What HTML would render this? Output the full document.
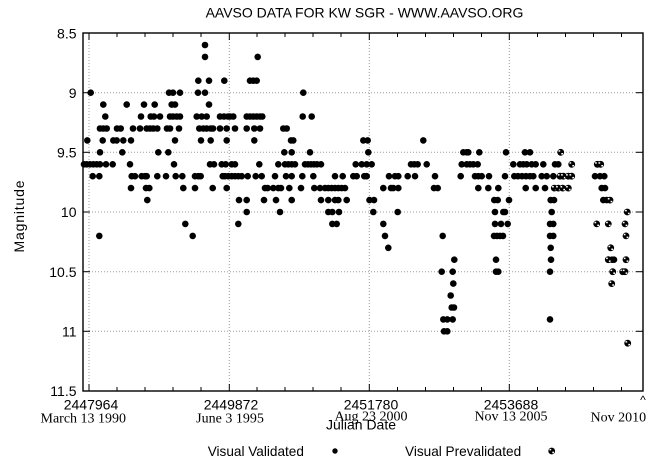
<!DOCTYPE html>
<html><head><meta charset="utf-8"><style>
html,body{margin:0;padding:0;background:#fff;}
svg{display:block;}
text{font-family:"Liberation Sans",Arial,sans-serif;fill:#000;}
.sf{font-family:"Liberation Serif","Times New Roman",serif;}
</style></head><body>
<svg width="659" height="465" viewBox="0 0 659 465" xmlns="http://www.w3.org/2000/svg">
<defs>
<g id="pv"><circle r="3.4" fill="#000"/><rect x="-2.2" y="-2.1" width="1.7" height="1.5" fill="#fff"/><rect x="0.6" y="0.7" width="1.7" height="1.5" fill="#fff"/></g>
</defs>
<rect x="0" y="0" width="659" height="465" fill="#fff"/>
<text x="364.5" y="17.3" font-size="14" text-anchor="middle">AAVSO DATA FOR KW SGR - WWW.AAVSO.ORG</text>

<!-- grid -->
<g stroke="#9a9a9a" stroke-width="1" stroke-dasharray="1,2" fill="none">
<line x1="83" y1="92.7" x2="643" y2="92.7"/>
<line x1="83" y1="152.3" x2="643" y2="152.3"/>
<line x1="83" y1="212" x2="643" y2="212"/>
<line x1="83" y1="271.7" x2="643" y2="271.7"/>
<line x1="83" y1="331.3" x2="643" y2="331.3"/>
<line x1="89" y1="33" x2="89" y2="391"/>
<line x1="229.3" y1="33" x2="229.3" y2="391"/>
<line x1="369.3" y1="33" x2="369.3" y2="391"/>
<line x1="509.3" y1="33" x2="509.3" y2="391"/>
</g>

<!-- ticks -->
<g stroke="#000" stroke-width="1">
<line x1="83" y1="92.7" x2="90" y2="92.7"/><line x1="643" y1="92.7" x2="636" y2="92.7"/>
<line x1="83" y1="152.3" x2="90" y2="152.3"/><line x1="643" y1="152.3" x2="636" y2="152.3"/>
<line x1="83" y1="212" x2="90" y2="212"/><line x1="643" y1="212" x2="636" y2="212"/>
<line x1="83" y1="271.7" x2="90" y2="271.7"/><line x1="643" y1="271.7" x2="636" y2="271.7"/>
<line x1="83" y1="331.3" x2="90" y2="331.3"/><line x1="643" y1="331.3" x2="636" y2="331.3"/>
<!-- major x -->
<line x1="89" y1="391" x2="89" y2="384"/><line x1="89" y1="33" x2="89" y2="40"/>
<line x1="229.3" y1="391" x2="229.3" y2="384"/><line x1="229.3" y1="33" x2="229.3" y2="40"/>
<line x1="369.3" y1="391" x2="369.3" y2="384"/><line x1="369.3" y1="33" x2="369.3" y2="40"/>
<line x1="509.3" y1="391" x2="509.3" y2="384"/><line x1="509.3" y1="33" x2="509.3" y2="40"/>
</g>
<g stroke="#000" stroke-width="1">
<line x1="117" y1="391" x2="117" y2="387"/><line x1="117" y1="33" x2="117" y2="37"/>
<line x1="145" y1="391" x2="145" y2="387"/><line x1="145" y1="33" x2="145" y2="37"/>
<line x1="173" y1="391" x2="173" y2="387"/><line x1="173" y1="33" x2="173" y2="37"/>
<line x1="201" y1="391" x2="201" y2="387"/><line x1="201" y1="33" x2="201" y2="37"/>
<line x1="257" y1="391" x2="257" y2="387"/><line x1="257" y1="33" x2="257" y2="37"/>
<line x1="285" y1="391" x2="285" y2="387"/><line x1="285" y1="33" x2="285" y2="37"/>
<line x1="313" y1="391" x2="313" y2="387"/><line x1="313" y1="33" x2="313" y2="37"/>
<line x1="341" y1="391" x2="341" y2="387"/><line x1="341" y1="33" x2="341" y2="37"/>
<line x1="397.5" y1="391" x2="397.5" y2="387"/><line x1="397.5" y1="33" x2="397.5" y2="37"/>
<line x1="425.5" y1="391" x2="425.5" y2="387"/><line x1="425.5" y1="33" x2="425.5" y2="37"/>
<line x1="453.5" y1="391" x2="453.5" y2="387"/><line x1="453.5" y1="33" x2="453.5" y2="37"/>
<line x1="481.5" y1="391" x2="481.5" y2="387"/><line x1="481.5" y1="33" x2="481.5" y2="37"/>
<line x1="537.5" y1="391" x2="537.5" y2="387"/><line x1="537.5" y1="33" x2="537.5" y2="37"/>
<line x1="565.5" y1="391" x2="565.5" y2="387"/><line x1="565.5" y1="33" x2="565.5" y2="37"/>
<line x1="593.5" y1="391" x2="593.5" y2="387"/><line x1="593.5" y1="33" x2="593.5" y2="37"/>
<line x1="621.5" y1="391" x2="621.5" y2="387"/><line x1="621.5" y1="33" x2="621.5" y2="37"/>
</g>

<!-- frame -->
<rect x="83" y="33" width="560" height="358" fill="none" stroke="#000" stroke-width="1.4"/>

<!-- y labels -->
<g font-size="14" text-anchor="end">
<text x="76.5" y="38.3">8.5</text>
<text x="76.5" y="97.9">9</text>
<text x="76.5" y="157.5">9.5</text>
<text x="76.5" y="217.2">10</text>
<text x="76.5" y="276.9">10.5</text>
<text x="76.5" y="336.5">11</text>
<text x="76.5" y="396.2">11.5</text>
</g>
<text transform="translate(24,216.5) rotate(-90)" font-size="14" text-anchor="middle" textLength="72">Magnitude</text>

<!-- x labels -->
<g font-size="14" text-anchor="middle">
<text x="91" y="409.3">2447964</text>
<text x="231" y="409.3">2449872</text>
<text x="371" y="409.3">2451780</text>
<text x="511" y="409.3">2453688</text>
</g>
<g class="sf" font-size="14" text-anchor="middle">
<text class="sf" x="83.3" y="422.5">March 13 1990</text>
<text class="sf" x="230" y="422.5">June 3 1995</text>
<text class="sf" x="371" y="420.5">Aug 23 2000</text>
<text class="sf" x="511" y="420.5">Nov 13 2005</text>
<text class="sf" x="618.3" y="421.7">Nov 2010</text>
</g>
<text x="643" y="404" font-size="12" text-anchor="middle">^</text>
<text x="361" y="429.5" font-size="14" text-anchor="middle">Julian Date</text>

<!-- legend -->
<text x="207.7" y="456" font-size="13.6">Visual Validated</text>
<circle cx="335" cy="451" r="2.7" fill="#000"/>
<text x="405" y="456" font-size="13.6">Visual Prevalidated</text>
<use href="#pv" x="551.7" y="451"/>

<!-- validated data -->
<g fill="#000">
<g transform="translate(0,45)"><circle cx="205" r="3.3"/></g>
<g transform="translate(0,56.9)"><circle cx="205" r="3.3"/><circle cx="257.7" r="3.3"/></g>
<g transform="translate(0,80.7)"><circle cx="198.3" r="3.3"/><circle cx="209" r="3.3"/><circle cx="224.3" r="3.3"/><circle cx="250" r="3.3"/><circle cx="253.3" r="3.3"/><circle cx="256.7" r="3.3"/></g>
<g transform="translate(0,92.7)"><circle cx="90.7" r="3.3"/><circle cx="169" r="3.3"/><circle cx="173" r="3.3"/><circle cx="180" r="3.3"/><circle cx="198" r="3.3"/><circle cx="205" r="3.3"/><circle cx="303.3" r="3.3"/></g>
<g transform="translate(0,104.6)"><circle cx="103.3" r="3.3"/><circle cx="126.7" r="3.3"/><circle cx="144" r="3.3"/><circle cx="154.7" r="3.3"/><circle cx="171.7" r="3.3"/><circle cx="175" r="3.3"/><circle cx="209" r="3.3"/></g>
<g transform="translate(0,116.5)"><circle cx="105.3" r="3.3"/><circle cx="141" r="3.3"/><circle cx="150.7" r="3.3"/><circle cx="154" r="3.3"/><circle cx="160" r="3.3"/><circle cx="170" r="3.3"/><circle cx="173" r="3.3"/><circle cx="176.7" r="3.3"/><circle cx="180" r="3.3"/><circle cx="196.7" r="3.3"/><circle cx="201.7" r="3.3"/><circle cx="206.7" r="3.3"/><circle cx="220" r="3.3"/><circle cx="224" r="3.3"/><circle cx="228" r="3.3"/><circle cx="230" r="3.3"/><circle cx="233.3" r="3.3"/><circle cx="246.7" r="3.3"/><circle cx="250" r="3.3"/><circle cx="253.3" r="3.3"/><circle cx="256.7" r="3.3"/><circle cx="260" r="3.3"/><circle cx="262.3" r="3.3"/><circle cx="302.7" r="3.3"/><circle cx="311.7" r="3.3"/></g>
<g transform="translate(0,128.5)"><circle cx="100" r="3.3"/><circle cx="103.3" r="3.3"/><circle cx="106.7" r="3.3"/><circle cx="117" r="3.3"/><circle cx="120.7" r="3.3"/><circle cx="133" r="3.3"/><circle cx="140" r="3.3"/><circle cx="146.7" r="3.3"/><circle cx="150" r="3.3"/><circle cx="153.3" r="3.3"/><circle cx="157.3" r="3.3"/><circle cx="167" r="3.3"/><circle cx="170" r="3.3"/><circle cx="179" r="3.3"/><circle cx="199.3" r="3.3"/><circle cx="203.3" r="3.3"/><circle cx="206.7" r="3.3"/><circle cx="210.7" r="3.3"/><circle cx="213" r="3.3"/><circle cx="220" r="3.3"/><circle cx="226.7" r="3.3"/><circle cx="235" r="3.3"/><circle cx="246.7" r="3.3"/><circle cx="254.3" r="3.3"/><circle cx="260" r="3.3"/><circle cx="283.3" r="3.3"/><circle cx="286.7" r="3.3"/></g>
<g transform="translate(0,140.4)"><circle cx="87.3" r="3.3"/><circle cx="102.7" r="3.3"/><circle cx="113.3" r="3.3"/><circle cx="116.7" r="3.3"/><circle cx="123.3" r="3.3"/><circle cx="131" r="3.3"/><circle cx="175" r="3.3"/><circle cx="201" r="3.3"/><circle cx="210.7" r="3.3"/><circle cx="226.7" r="3.3"/><circle cx="254.3" r="3.3"/><circle cx="291" r="3.3"/><circle cx="293.3" r="3.3"/><circle cx="363.3" r="3.3"/><circle cx="367.7" r="3.3"/><circle cx="423.3" r="3.3"/></g>
<g transform="translate(0,152.3)"><circle cx="100" r="3.3"/><circle cx="122.3" r="3.3"/><circle cx="158.3" r="3.3"/><circle cx="168.3" r="3.3"/><circle cx="284.3" r="3.3"/><circle cx="291.7" r="3.3"/><circle cx="310" r="3.3"/><circle cx="368.3" r="3.3"/><circle cx="463.3" r="3.3"/><circle cx="466.7" r="3.3"/><circle cx="468.3" r="3.3"/><circle cx="479.3" r="3.3"/><circle cx="506" r="3.3"/><circle cx="525" r="3.3"/><circle cx="530" r="3.3"/></g>
<g transform="translate(0,164.3)"><circle cx="84" r="3.3"/><circle cx="86.7" r="3.3"/><circle cx="90" r="3.3"/><circle cx="93.3" r="3.3"/><circle cx="96.7" r="3.3"/><circle cx="100" r="3.3"/><circle cx="106" r="3.3"/><circle cx="112.7" r="3.3"/><circle cx="130" r="3.3"/><circle cx="174" r="3.3"/><circle cx="210" r="3.3"/><circle cx="214" r="3.3"/><circle cx="221.7" r="3.3"/><circle cx="225.7" r="3.3"/><circle cx="231.7" r="3.3"/><circle cx="235" r="3.3"/><circle cx="259.3" r="3.3"/><circle cx="278.3" r="3.3"/><circle cx="285" r="3.3"/><circle cx="288.3" r="3.3"/><circle cx="291.7" r="3.3"/><circle cx="295" r="3.3"/><circle cx="305" r="3.3"/><circle cx="308" r="3.3"/><circle cx="311" r="3.3"/><circle cx="314" r="3.3"/><circle cx="317" r="3.3"/><circle cx="321" r="3.3"/><circle cx="355.7" r="3.3"/><circle cx="361.7" r="3.3"/><circle cx="366.7" r="3.3"/><circle cx="371.7" r="3.3"/><circle cx="411" r="3.3"/><circle cx="414.3" r="3.3"/><circle cx="417.7" r="3.3"/><circle cx="426.7" r="3.3"/><circle cx="461.7" r="3.3"/><circle cx="466.7" r="3.3"/><circle cx="470" r="3.3"/><circle cx="473.3" r="3.3"/><circle cx="477.7" r="3.3"/><circle cx="513.3" r="3.3"/><circle cx="520" r="3.3"/><circle cx="523.3" r="3.3"/><circle cx="526.7" r="3.3"/><circle cx="531.7" r="3.3"/><circle cx="535.7" r="3.3"/><circle cx="543.3" r="3.3"/><circle cx="555" r="3.3"/><circle cx="558.3" r="3.3"/></g>
<g transform="translate(0,176.2)"><circle cx="92.7" r="3.3"/><circle cx="99.3" r="3.3"/><circle cx="131.7" r="3.3"/><circle cx="135" r="3.3"/><circle cx="141.7" r="3.3"/><circle cx="145" r="3.3"/><circle cx="146.7" r="3.3"/><circle cx="157.3" r="3.3"/><circle cx="166" r="3.3"/><circle cx="175.7" r="3.3"/><circle cx="182.3" r="3.3"/><circle cx="195" r="3.3"/><circle cx="198.3" r="3.3"/><circle cx="200.7" r="3.3"/><circle cx="222.7" r="3.3"/><circle cx="225" r="3.3"/><circle cx="228.3" r="3.3"/><circle cx="231.7" r="3.3"/><circle cx="235" r="3.3"/><circle cx="238.3" r="3.3"/><circle cx="241.7" r="3.3"/><circle cx="247.7" r="3.3"/><circle cx="255.7" r="3.3"/><circle cx="261.7" r="3.3"/><circle cx="275" r="3.3"/><circle cx="286" r="3.3"/><circle cx="291.7" r="3.3"/><circle cx="302.3" r="3.3"/><circle cx="313.3" r="3.3"/><circle cx="335" r="3.3"/><circle cx="342.7" r="3.3"/><circle cx="353.3" r="3.3"/><circle cx="356.7" r="3.3"/><circle cx="364.3" r="3.3"/><circle cx="366.7" r="3.3"/><circle cx="389" r="3.3"/><circle cx="395" r="3.3"/><circle cx="398.3" r="3.3"/><circle cx="407.7" r="3.3"/><circle cx="415" r="3.3"/><circle cx="435" r="3.3"/><circle cx="460.7" r="3.3"/><circle cx="475" r="3.3"/><circle cx="478.3" r="3.3"/><circle cx="481.7" r="3.3"/><circle cx="489" r="3.3"/><circle cx="505" r="3.3"/><circle cx="514.3" r="3.3"/><circle cx="518" r="3.3"/><circle cx="522" r="3.3"/><circle cx="526" r="3.3"/><circle cx="530" r="3.3"/><circle cx="533.3" r="3.3"/><circle cx="541.7" r="3.3"/><circle cx="546.7" r="3.3"/><circle cx="553.3" r="3.3"/><circle cx="595" r="3.3"/><circle cx="600" r="3.3"/><circle cx="604.3" r="3.3"/></g>
<g transform="translate(0,188.1)"><circle cx="131" r="3.3"/><circle cx="146" r="3.3"/><circle cx="149.3" r="3.3"/><circle cx="183.3" r="3.3"/><circle cx="195" r="3.3"/><circle cx="212.7" r="3.3"/><circle cx="226.7" r="3.3"/><circle cx="265" r="3.3"/><circle cx="267.7" r="3.3"/><circle cx="273.3" r="3.3"/><circle cx="278.3" r="3.3"/><circle cx="281" r="3.3"/><circle cx="289.3" r="3.3"/><circle cx="301" r="3.3"/><circle cx="314.3" r="3.3"/><circle cx="320" r="3.3"/><circle cx="325" r="3.3"/><circle cx="328.3" r="3.3"/><circle cx="331.7" r="3.3"/><circle cx="335" r="3.3"/><circle cx="338.3" r="3.3"/><circle cx="341.7" r="3.3"/><circle cx="345" r="3.3"/><circle cx="383.3" r="3.3"/><circle cx="391" r="3.3"/><circle cx="393.3" r="3.3"/><circle cx="398.3" r="3.3"/><circle cx="434" r="3.3"/><circle cx="437.7" r="3.3"/><circle cx="478.3" r="3.3"/><circle cx="488.3" r="3.3"/><circle cx="498.3" r="3.3"/><circle cx="525.7" r="3.3"/><circle cx="535.7" r="3.3"/><circle cx="545" r="3.3"/><circle cx="601.7" r="3.3"/><circle cx="605" r="3.3"/></g>
<g transform="translate(0,200.1)"><circle cx="147.3" r="3.3"/><circle cx="239" r="3.3"/><circle cx="246.7" r="3.3"/><circle cx="264" r="3.3"/><circle cx="276" r="3.3"/><circle cx="291.7" r="3.3"/><circle cx="321" r="3.3"/><circle cx="328.3" r="3.3"/><circle cx="335" r="3.3"/><circle cx="338.3" r="3.3"/><circle cx="346.7" r="3.3"/><circle cx="369.5" r="3.3"/><circle cx="374" r="3.3"/><circle cx="494.3" r="3.3"/><circle cx="497.7" r="3.3"/><circle cx="509" r="3.3"/><circle cx="550.7" r="3.3"/><circle cx="554" r="3.3"/><circle cx="603.3" r="3.3"/><circle cx="606.7" r="3.3"/></g>
<g transform="translate(0,212)"><circle cx="246.7" r="3.3"/><circle cx="280" r="3.3"/><circle cx="328.3" r="3.3"/><circle cx="332.3" r="3.3"/><circle cx="339" r="3.3"/><circle cx="373.3" r="3.3"/><circle cx="397.7" r="3.3"/><circle cx="495" r="3.3"/><circle cx="503.3" r="3.3"/><circle cx="505" r="3.3"/><circle cx="551.7" r="3.3"/></g>
<g transform="translate(0,223.9)"><circle cx="185.3" r="3.3"/><circle cx="238.3" r="3.3"/><circle cx="332.3" r="3.3"/><circle cx="336.7" r="3.3"/><circle cx="383.3" r="3.3"/><circle cx="495" r="3.3"/><circle cx="501" r="3.3"/><circle cx="507.7" r="3.3"/><circle cx="550" r="3.3"/><circle cx="553.3" r="3.3"/></g>
<g transform="translate(0,235.9)"><circle cx="99.3" r="3.3"/><circle cx="192.7" r="3.3"/><circle cx="385" r="3.3"/><circle cx="442.7" r="3.3"/><circle cx="494" r="3.3"/><circle cx="497" r="3.3"/><circle cx="500" r="3.3"/><circle cx="503" r="3.3"/><circle cx="550" r="3.3"/><circle cx="553.3" r="3.3"/></g>
<g transform="translate(0,247.8)"><circle cx="388.3" r="3.3"/><circle cx="550.7" r="3.3"/></g>
<g transform="translate(0,259.7)"><circle cx="454.3" r="3.3"/><circle cx="496" r="3.3"/><circle cx="551" r="3.3"/><circle cx="612" r="3.3"/><circle cx="614" r="3.3"/></g>
<g transform="translate(0,271.7)"><circle cx="441.7" r="3.3"/><circle cx="452.7" r="3.3"/><circle cx="496" r="3.3"/><circle cx="498.3" r="3.3"/><circle cx="550" r="3.3"/></g>
<g transform="translate(0,283.6)"><circle cx="453.3" r="3.3"/></g>
<g transform="translate(0,295.5)"><circle cx="450.7" r="3.3"/></g>
<g transform="translate(0,307.5)"><circle cx="451.7" r="3.3"/><circle cx="454" r="3.3"/></g>
<g transform="translate(0,319.4)"><circle cx="443.3" r="3.3"/><circle cx="447.3" r="3.3"/><circle cx="452.7" r="3.3"/><circle cx="550" r="3.3"/></g>
<g transform="translate(0,331.3)"><circle cx="444" r="3.3"/><circle cx="447.3" r="3.3"/></g>
</g>

<!-- prevalidated data -->
<use href="#pv" x="560.7" y="152.3"/>
<use href="#pv" x="571.7" y="164.3"/>
<use href="#pv" x="597.3" y="164.3"/>
<use href="#pv" x="600.7" y="164.3"/>
<use href="#pv" x="560" y="176.2"/>
<use href="#pv" x="563.3" y="176.2"/>
<use href="#pv" x="568.3" y="176.2"/>
<use href="#pv" x="571.7" y="176.2"/>
<use href="#pv" x="554.3" y="188.1"/>
<use href="#pv" x="558.3" y="188.1"/>
<use href="#pv" x="562.7" y="188.1"/>
<use href="#pv" x="568.3" y="188.1"/>
<use href="#pv" x="610" y="200.1"/>
<use href="#pv" x="627.3" y="212"/>
<use href="#pv" x="596.7" y="223.9"/>
<use href="#pv" x="608.3" y="223.9"/>
<use href="#pv" x="625" y="223.9"/>
<use href="#pv" x="626" y="235.9"/>
<use href="#pv" x="610.7" y="247.8"/>
<use href="#pv" x="608.3" y="259.7"/>
<use href="#pv" x="626" y="259.7"/>
<use href="#pv" x="612.7" y="271.7"/>
<use href="#pv" x="622.7" y="271.7"/>
<use href="#pv" x="625" y="271.7"/>
<use href="#pv" x="611.7" y="283.6"/>
<use href="#pv" x="627.7" y="343.2"/>
</svg>
</body></html>
